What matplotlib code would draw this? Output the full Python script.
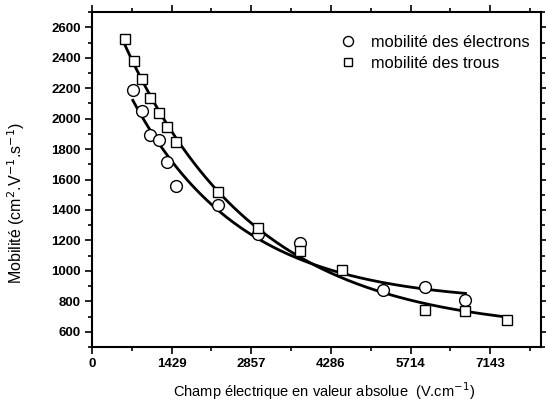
import numpy as np
import matplotlib
matplotlib.use("Agg")
import matplotlib.pyplot as plt
from matplotlib.ticker import MultipleLocator, FixedLocator

plt.rcParams['font.family'] = ['Liberation Sans', 'DejaVu Sans']

# Mobilité des électrons (cercles)
champElectrons = [732, 893, 1036, 1197, 1340, 1500, 2251, 2983, 3733, 5216, 5966, 6699]
mobElectrons = [2187, 2049, 1892, 1859, 1715, 1557, 1433, 1243, 1184, 875, 895, 810]

# Mobilité des trous (carrés)
champTrous = [589, 750, 893, 1036, 1197, 1340, 1500, 2251, 2983, 3733, 4484, 5966, 6699, 7449]
mobTrous = [2521, 2377, 2259, 2134, 2036, 1944, 1846, 1518, 1282, 1131, 1007, 744, 738, 679]

xTicks = [0, 1429, 2857, 4286, 5714, 7143]
yTicks = list(range(600, 2601, 200))


def ajusterExpDec(x, y):
    """Ajustement y = y0 + A*exp(-x/t) (recherche sur t, moindres carrés sur y0, A)"""
    x = np.asarray(x, float)
    y = np.asarray(y, float)
    meilleur = None
    for t in np.linspace(500, 8000, 1501):
        M = np.column_stack([np.ones_like(x), np.exp(-x / t)])
        coef, _, _, _ = np.linalg.lstsq(M, y, rcond=None)
        err = np.sum((M @ coef - y) ** 2)
        if meilleur is None or err < meilleur[0]:
            meilleur = (err, coef[0], coef[1], t)
    _, y0, A, t = meilleur
    return lambda xx: y0 + A * np.exp(-xx / t)


fig = plt.figure(figsize=(5.46, 4.03), dpi=100)
ax = fig.add_axes([0.1685, 0.139, 0.822, 0.831])

for xs, ys in [(champElectrons, mobElectrons), (champTrous, mobTrous)]:
    f = ajusterExpDec(xs, ys)
    xx = np.linspace(min(xs), max(xs), 200)
    ax.plot(xx, f(xx), color='black', lw=2.0)

ax.plot(champElectrons, mobElectrons, 'o', ms=8.5, mfc='white', mec='black', mew=1.0,
        label='mobilité des électrons', linestyle='none')
ax.plot(champTrous, mobTrous, 's', ms=7.5, mfc='white', mec='black', mew=1.0,
        label='mobilité des trous', linestyle='none')

ax.set_xlim(0, 8050)
ax.set_ylim(500, 2700)
ax.xaxis.set_major_locator(FixedLocator(xTicks))
ax.set_xticklabels([str(v) for v in xTicks], fontweight='bold', fontsize=9.5)
ax.xaxis.set_minor_locator(FixedLocator([714.5 + 1428.6 * i for i in range(6)]))
ax.set_yticks(yTicks)
ax.set_yticklabels([str(v) for v in yTicks], fontweight='bold', fontsize=9.5)
ax.yaxis.set_minor_locator(MultipleLocator(100))

ax.tick_params(which='both', direction='out', top=True, right=True, width=1.2)
ax.tick_params(which='major', length=5, pad=3)
ax.tick_params(which='minor', length=3)
for s in ax.spines.values():
    s.set_linewidth(1.5)

ax.set_xlabel('Champ électrique en valeur absolue  (V.cm$^{-1}$)', fontsize=10.5)
ax.xaxis.set_label_coords(0.517, -0.098)
ax.set_ylabel('Mobilité (cm$^{2}$.V$^{-1}$.s$^{-1}$)', fontsize=11.5)
ax.yaxis.set_label_coords(-0.145, 0.43)

ax.legend(loc='upper left', bbox_to_anchor=(0.52, 0.975), frameon=False, fontsize=11.8,
          handletextpad=0.9, labelspacing=0.35, handlelength=1.0, markerscale=0.85)

fig.savefig('out.png', dpi=100)
